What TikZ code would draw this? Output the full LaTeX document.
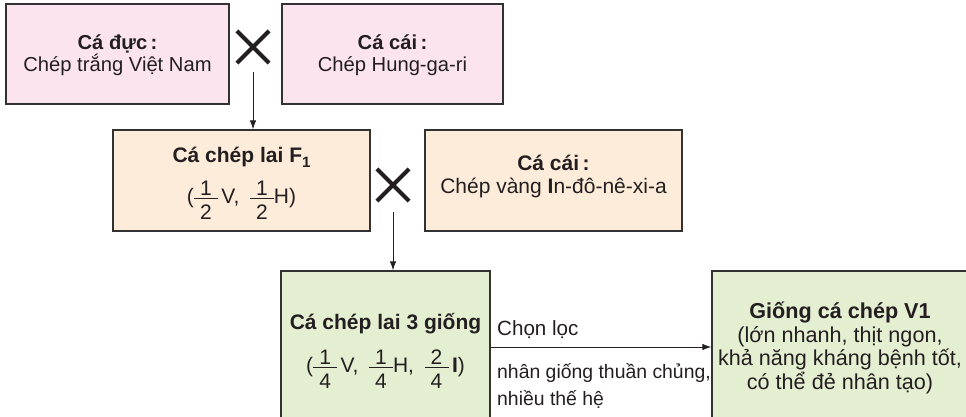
\documentclass[tikz,border=0pt]{standalone}
\usepackage{fontspec}
\setmainfont{Liberation Sans}
\usetikzlibrary{arrows.meta,shapes.misc}
\definecolor{pinkfill}{RGB}{251,228,238}
\definecolor{peachfill}{RGB}{253,236,217}
\definecolor{greenfill}{RGB}{228,238,209}
\definecolor{edgecol}{RGB}{50,50,50}
\definecolor{ink}{RGB}{35,31,32}
\newcommand{\myfr}[2]{\makebox[24pt][l]{\rule[4.6pt]{24pt}{0.9pt}}\hspace{-24pt}\makebox[24pt]{\raisebox{8pt}{#1}}\hspace{-24pt}\makebox[24pt]{\raisebox{-15.5pt}{#2}}}
\newcommand{\mysub}[1]{\raisebox{-5pt}{\fontsize{15}{15}\selectfont\bfseries #1}}
\begin{document}
\begin{tikzpicture}[x=1pt,y=-1pt,
  every node/.style={text=ink},
  fA/.style={font=\fontsize{20.2}{22}\selectfont},
  fB/.style={font=\fontsize{21}{23}\selectfont},
  fC/.style={font=\fontsize{21.6}{23.4}\selectfont},
  box/.style={draw=edgecol, line width=1.3pt, inner sep=0pt},
  pinkbox/.style={box, fill=pinkfill},
  peachbox/.style={box, fill=peachfill},
  greenbox/.style={box, fill=greenfill},
  txt/.style={align=center, inner sep=0pt},
  crossmark/.style={cross out, draw=ink, line width=4.2pt, minimum size=28pt, inner sep=0pt},
  arr/.style={draw=ink, line width=1pt, -{Latex[length=9pt,width=6.5pt]}},
  lbl/.style={anchor=base west, inner sep=0pt}
]
\useasboundingbox (0,0) rectangle (966,417);
\clip (0,0) rectangle (966,417);
\fill[white] (0,0) rectangle (966,417);

\node[pinkbox, minimum width=223pt, minimum height=100pt] (b1) at (117.5,54) {};
\node[txt, fA] (t1) at (117.5,55) {\textbf{Cá đực\,:}\\Chép trắng Việt Nam};
\node[pinkbox, minimum width=221pt, minimum height=100pt] (b2) at (392.5,54) {};
\node[txt, fA] (t2) at (392.5,55) {\textbf{Cá cái\,:}\\Chép Hung-ga-ri};
\node[crossmark] (x1) at (253,47) {};

\node[peachbox, minimum width=257pt, minimum height=101pt] (b3) at (241.5,180.5) {};
\node[txt, fB] (t3) at (241.5,183)
  {\textbf{Cá chép lai F\mysub{1}}\\[13pt](\myfr{1}{2}\,V,\enspace\myfr{1}{2}H)};
\node[peachbox, minimum width=257pt, minimum height=101pt] (b4) at (553.5,180.5) {};
\node[txt, fB] (t4) at (553.5,176)
  {\textbf{Cá cái\,:}\\Chép vàng \textbf{I}n-đô-nê-xi-a};
\node[crossmark] (x2) at (393,185) {};

\node[greenbox, minimum width=209pt, minimum height=160pt] (b5) at (385.5,351) {};
\node[txt, fB] (t5) at (385.5,351)
  {\textbf{Cá chép lai 3 giống}\\[15pt](\myfr{1}{4}\,V,\enspace\myfr{1}{4}H,\enspace\myfr{2}{4}\,\textbf{I})};
\node[greenbox, minimum width=256pt, minimum height=160pt] (b6) at (840,351) {};
\node[txt, fC] (t6) at (840,348)
  {\textbf{Giống cá chép V1}\\(lớn nhanh, thịt ngon,\\khả năng kháng bệnh tốt,\\có thể đẻ nhân tạo)};

\coordinate (s1) at (253,72);
\coordinate (s2) at (393,212);
\coordinate (h) at (0,347);
\draw[arr] (s1) -- (s1 |- b3.north);
\draw[arr] (s2) -- (s2 |- b5.north);
\draw[arr] (b5.east |- h) -- (b6.west |- h);

\node[lbl, font=\fontsize{20.6}{22}\selectfont] (l1) at (497,335) {Chọn lọc};
\node[lbl, font=\fontsize{19.4}{22}\selectfont] (l2) at (497,378) {nhân giống thuần chủng,};
\node[lbl, font=\fontsize{19.4}{22}\selectfont] (l3) at (497,405) {nhiều thế hệ};
\end{tikzpicture}
\end{document}
